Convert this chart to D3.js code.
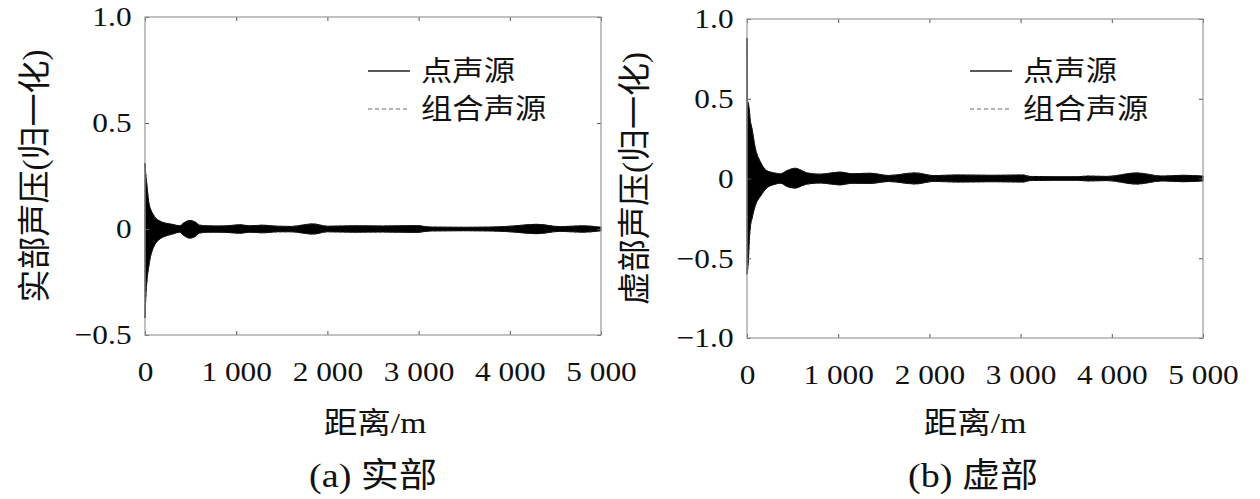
<!DOCTYPE html>
<html>
<head>
<meta charset="utf-8">
<script src="https://cdn.jsdelivr.net/npm/d3@7"></script>
<style>
body { margin: 0; background: #fff; }
text { font-family: "Liberation Serif", "Noto Sans CJK SC", serif; fill: #111; }
</style>
</head>
<body>
<div class="chart"></div>
<script>
// envelope of the oscillating pressure (distance in m)
var distA  = [0, 10, 20, 40, 60, 85, 120, 160, 220, 300, 380, 430, 490, 550, 600, 680, 800, 900, 1040, 1150, 1290, 1450, 1600, 1840, 2000, 2300, 2600, 2980, 3130, 3500, 3790, 4000, 4300, 4550, 4800, 5000];
var upperA = [0.31, 0.25, 0.21, 0.13, 0.095, 0.072, 0.05, 0.038, 0.028, 0.022, 0.015, 0.03, 0.04, 0.033, 0.018, 0.015, 0.014, 0.015, 0.02, 0.015, 0.018, 0.013, 0.012, 0.024, 0.013, 0.015, 0.014, 0.016, 0.009, 0.008, 0.009, 0.013, 0.022, 0.011, 0.015, 0.008];
var lowerA = [-0.42, -0.31, -0.25, -0.18, -0.13, -0.095, -0.066, -0.048, -0.034, -0.024, -0.015, -0.032, -0.043, -0.035, -0.019, -0.015, -0.015, -0.016, -0.02, -0.015, -0.018, -0.013, -0.013, -0.024, -0.013, -0.015, -0.014, -0.016, -0.009, -0.008, -0.009, -0.013, -0.022, -0.011, -0.015, -0.008];

var distB  = [0, 5, 15, 25, 35, 55, 91, 146, 219, 300, 365, 440, 530, 600, 658, 800, 1023, 1150, 1350, 1550, 1844, 2050, 2300, 2700, 3030, 3100, 3400, 3620, 3730, 3950, 4270, 4550, 4780, 5000];
var upperB = [0.88, 0.49, 0.47, 0.43, 0.37, 0.31, 0.19, 0.105, 0.048, 0.035, 0.029, 0.05, 0.064, 0.05, 0.035, 0.027, 0.04, 0.03, 0.033, 0.019, 0.035, 0.018, 0.022, 0.02, 0.022, 0.013, 0.011, 0.011, 0.015, 0.013, 0.035, 0.015, 0.02, 0.015];
var lowerB = [-0.60, -0.58, -0.51, -0.39, -0.31, -0.25, -0.17, -0.112, -0.058, -0.037, -0.029, -0.05, -0.06, -0.046, -0.035, -0.028, -0.04, -0.03, -0.031, -0.019, -0.034, -0.018, -0.022, -0.02, -0.022, -0.013, -0.011, -0.011, -0.015, -0.013, -0.035, -0.015, -0.02, -0.015];

var xTicks = [0, 1000, 2000, 3000, 4000, 5000];
var xTickLabels = ["0", "1 000", "2 000", "3 000", "4 000", "5 000"];
var yTicksA = [-0.5, 0, 0.5, 1];
var yTickLabelsA = ["\u22120.5", "0", "0.5", "1.0"];
var yTicksB = [-1, -0.5, 0, 0.5, 1];
var yTickLabelsB = ["\u22121.0", "\u22120.5", "0", "0.5", "1.0"];
var legendNames = ["点声源", "组合声源"];
var yTitles = ["实部声压(归一化)", "虚部声压(归一化)"];
var xTitle = "距离/m";
var captions = ["(a) 实部", "(b) 虚部"];

var W = 1260, H = 499;
var STRETCH = 1.12;

var svg = d3.select(".chart").append("svg")
	.attr("width", W)
	.attr("height", H);

function zip(dist, up, lo) {
	return dist.map(function (d, i) { return { d: d, hi: up[i], lo: lo[i] }; });
}

var panels = [
	{ left: 145, right: 601, top: 17, bottom: 335, domain: [-0.5, 1], yTicks: yTicksA, yLabels: yTickLabelsA,
	  data: zip(distA, upperA, lowerA), title: yTitles[0], caption: captions[0], titleX: 34, captionX: 373, xTitleX: 375, legendX: 368 },
	{ left: 747, right: 1203, top: 19, bottom: 338, domain: [-1, 1], yTicks: yTicksB, yLabels: yTickLabelsB,
	  data: zip(distB, upperB, lowerB), title: yTitles[1], caption: captions[1], titleX: 634, captionX: 973, xTitleX: 975, legendX: 970 }
];

panels.forEach(function (p) {
	var x = d3.scaleLinear().domain([0, 5000]).range([p.left, p.right]);
	var y = d3.scaleLinear().domain(p.domain).range([p.bottom, p.top]);
	var g = svg.append("g");

	// the signal oscillates too fast to see, so the band between envelopes is filled
	var area = d3.area()
		.x(function (d) { return x(d.d); })
		.y0(function (d) { return y(d.lo); })
		.y1(function (d) { return y(d.hi); })
		.curve(d3.curveMonotoneX);

	g.append("path")
		.datum(p.data)
		.attr("d", area)
		.attr("fill", "#000")
		.attr("stroke", "#000")
		.attr("stroke-width", 1);

	// combined source lies on top of the point source
	g.append("path")
		.datum(p.data)
		.attr("d", area)
		.attr("fill", "none")
		.attr("stroke", "#222")
		.attr("stroke-width", 0.8)
		.attr("stroke-dasharray", "3,2");

	var bottomAxis = g.append("g")
		.attr("transform", "translate(0," + p.bottom + ")")
		.call(d3.axisBottom(x).tickValues(xTicks).tickSize(-4).tickPadding(26)
			.tickFormat(function (d, i) { return xTickLabels[i]; }));
	var topAxis = g.append("g")
		.attr("transform", "translate(0," + p.top + ")")
		.call(d3.axisTop(x).tickValues(xTicks).tickSize(-4).tickFormat(""));
	var leftAxis = g.append("g")
		.attr("transform", "translate(" + p.left + ",0)")
		.call(d3.axisLeft(y).tickValues(p.yTicks).tickSize(-4).tickPadding(12)
			.tickFormat(function (d, i) { return p.yLabels[i]; }));
	var rightAxis = g.append("g")
		.attr("transform", "translate(" + p.right + ",0)")
		.call(d3.axisRight(y).tickValues(p.yTicks).tickSize(-4).tickFormat(""));

	[bottomAxis, topAxis, leftAxis, rightAxis].forEach(function (a) {
		a.select(".domain").remove();
		a.selectAll(".tick line").attr("stroke", "#555");
		a.selectAll("text")
			.attr("font-size", 28)
			.attr("font-family", null)
			.attr("fill", "#111")
			.attr("transform", "scale(" + STRETCH + ",1)");
	});

	g.append("rect")
		.attr("x", p.left)
		.attr("y", p.top)
		.attr("width", p.right - p.left)
		.attr("height", p.bottom - p.top)
		.attr("fill", "none")
		.attr("stroke", "#999")
		.attr("stroke-width", 1.2);

	// legend
	var leg = g.append("g").attr("transform", "translate(" + p.legendX + ",71)");
	legendNames.forEach(function (name, i) {
		var row = leg.append("g").attr("transform", "translate(0," + (i * 38) + ")");
		row.append("line")
			.attr("x1", 0).attr("x2", 42)
			.attr("stroke", i === 0 ? "#222" : "#666")
			.attr("stroke-width", i === 0 ? 1.6 : 1)
			.attr("stroke-dasharray", i === 0 ? null : "4,3");
		row.append("text")
			.attr("transform", "translate(53,0) scale(" + STRETCH + ",1)")
			.attr("dy", "0.35em")
			.attr("font-size", 28)
			.text(name);
	});

	svg.append("text")
		.attr("text-anchor", "middle")
		.attr("transform", "translate(" + p.titleX + "," + ((p.top + p.bottom) / 2) + ")rotate(-90)")
		.attr("dy", "0.35em")
		.attr("font-size", 33)
		.text(p.title);

	svg.append("text")
		.attr("text-anchor", "middle")
		.attr("transform", "translate(" + p.xTitleX + ",433) scale(" + STRETCH + ",1)")
		.attr("font-size", 30)
		.text(xTitle);

	svg.append("text")
		.attr("text-anchor", "middle")
		.attr("transform", "translate(" + p.captionX + ",487) scale(" + STRETCH + ",1)")
		.attr("font-size", 34)
		.text(p.caption);
});
</script>
</body>
</html>
